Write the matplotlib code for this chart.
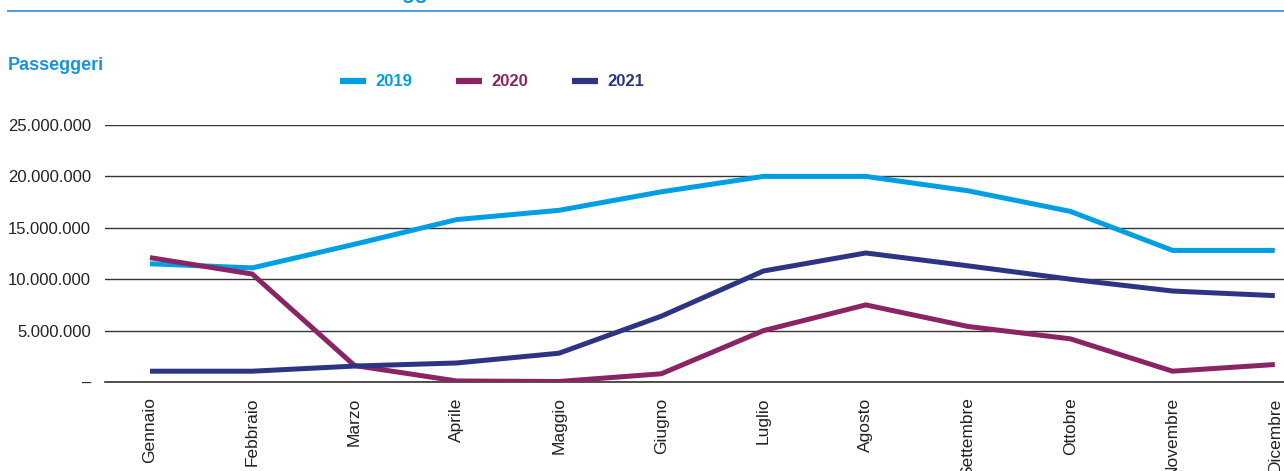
import matplotlib
matplotlib.use("Agg")
import matplotlib.pyplot as plt
from matplotlib.lines import Line2D
from matplotlib.ticker import FuncFormatter

months = ["Gennaio", "Febbraio", "Marzo", "Aprile", "Maggio", "Giugno", "Luglio",
          "Agosto", "Settembre", "Ottobre", "Novembre", "Dicembre"]
pax_2019 = [11.5, 11.1, 13.4, 15.8, 16.7, 18.5, 20.0, 20.0, 18.6, 16.6, 12.8, 12.8]
pax_2020 = [12.1, 10.5, 1.6, 0.1, 0.05, 0.8, 5.0, 7.5, 5.4, 4.2, 1.05, 1.7]
pax_2021 = [1.05, 1.05, 1.55, 1.85, 2.8, 6.4, 10.8, 12.55, 11.3, 10.0, 8.85, 8.4]
years = ["2019", "2020", "2021"]
yticks = [0, 5, 10, 15, 20, 25]

C = {"2019": "#009FE3", "2020": "#8A2465", "2021": "#2D3583"}
plt.rcParams["font.family"] = ["Liberation Sans", "DejaVu Sans"]

fig = plt.figure(figsize=(12.84, 4.71), dpi=100)
ax = fig.add_axes([105/1284, 1 - 382/471, 1 - 105/1284, (382 - 125)/471])

x = range(len(months))
for yr, vals in zip(years, [pax_2019, pax_2020, pax_2021]):
    ax.plot(x, [v * 1e6 for v in vals], color=C[yr], lw=3.6, solid_joinstyle="miter",
            solid_capstyle="butt", label=yr, zorder=3)

ax.set_ylim(0, 25e6)
ax.set_xlim(-0.44, 11.09)
ax.set_yticks([t * 1e6 for t in yticks])
ax.yaxis.set_major_formatter(FuncFormatter(
    lambda v, p: "–" if v == 0 else f"{int(v):,}".replace(",", ".")))
ax.set_xticks(list(x))
ax.set_xticklabels(months, rotation=90, va="top", ha="center")
ax.tick_params(axis="both", length=0, labelsize=12, colors="#222222")
ax.tick_params(axis="x", pad=11, labelsize=12.5)
ax.tick_params(axis="y", pad=10)
ax.grid(axis="y", color="#333333", lw=1)
ax.axhline(0, color="#333333", lw=1.2, clip_on=False, zorder=1)
ax.set_axisbelow(True)
for s in ax.spines.values():
    s.set_visible(False)

# header elements
fig.add_artist(Line2D([8/1284, 1], [1 - 11/471] * 2, color="#4AA3DF", lw=1.5))
fig.text(8/1284, 1 - 65/471, "Passeggeri", color="#1A93D9", fontsize=13,
         fontweight="bold", va="center", ha="left")
fig.text(260/1284, 1 + 1/471, "Traffico Passeggeri", color="#1A93D9", fontsize=15,
         fontweight="bold", va="baseline", ha="left")

leg = ax.legend(loc="center left", bbox_to_anchor=(325/1284, 1 - 82/471),
                bbox_transform=fig.transFigure, ncol=3, frameon=False,
                handlelength=1.55, handletextpad=0.55, columnspacing=2.65,
                labelcolor="linecolor", prop={"weight": "bold", "size": 12})
for h in leg.get_lines():
    h.set_linewidth(4.5)

fig.savefig("out.png", dpi=100)
